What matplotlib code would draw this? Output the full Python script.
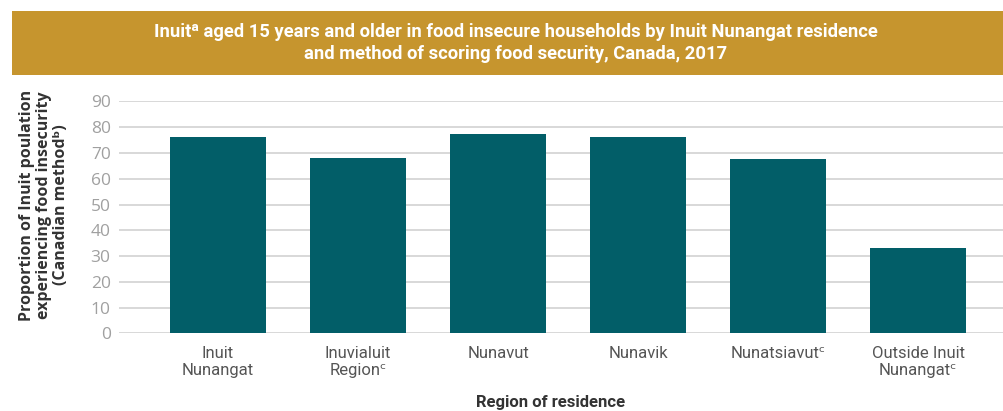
import matplotlib
matplotlib.use("Agg")
import matplotlib.pyplot as plt
from matplotlib.patches import Rectangle

categories = ["Inuit\nNunangat", "Inuvialuit\nRegionᶜ", "Nunavut", "Nunavik",
              "Nunatsiavutᶜ", "Outside Inuit\nNunangatᶜ"]
values = [76.3, 68.1, 77.4, 76.2, 67.7, 33.1]
yticks = [0, 10, 20, 30, 40, 50, 60, 70, 80, 90]

title = ("Inuitᵃ aged 15 years and older in food insecure households by Inuit Nunangat residence\n"
         "and method of scoring food security, Canada, 2017")
ylabel = "Proportion of Inuit poulation\nexperiencing food insecurity\n(Canadian methodᵇ)"
xlabel = "Region of residence"

W, H = 1004, 411
fig = plt.figure(figsize=(W / 100, H / 100), dpi=100)
fig.patch.set_facecolor("white")

narrow = ["Roboto", "DejaVu Sans"]
sans = ["Open Sans", "DejaVu Sans"]

# banner
fig.add_artist(Rectangle((12 / W, 1 - 75 / H), 1 - 12 / W, 64 / H,
                         transform=fig.transFigure, facecolor="#C6952E",
                         edgecolor="none", zorder=0))
fig.text(516 / W, 1 - 43 / H, title, ha="center", va="center", color="white",
         fontsize=13.2, fontweight="bold", family=narrow, linespacing=1.25)

left, right = 119 / W, 1.0
bottom, top = 1 - 333.3 / H, 1 - 101.5 / H
ax = fig.add_axes([left, bottom, right - left, top - bottom])

x = list(range(len(categories)))
ax.bar(x, values, width=0.686, color="#025E68", zorder=3)
ax.set_xlim(-0.707, 5.614)
ax.set_ylim(0, 90)
ax.set_yticks(yticks)
ax.set_yticklabels([str(v) for v in yticks], family=sans, fontsize=12.5, color="#A0A0A0")
ax.set_xticks(x)
ax.set_xticklabels(categories, family=narrow, fontsize=12, color="#555555",
                   linespacing=1.2)
ax.tick_params(axis="both", length=0)
ax.tick_params(axis="y", pad=6)
ax.tick_params(axis="x", pad=9)
ax.grid(axis="y", color="#D6D6D6", linewidth=1.3, zorder=0)
ax.set_axisbelow(True)
for s in ax.spines.values():
    s.set_visible(False)

fig.text(44 / W, 1 - 205 / H, ylabel, rotation=90, ha="center", va="center",
         family=sans, fontsize=11.5, fontweight="bold", color="#333333",
         linespacing=1.05)
fig.text(551 / W, 1 - 402 / H, xlabel, ha="center", va="center",
         family=narrow, fontsize=12, fontweight="bold", color="#333333")

fig.savefig("out.png", dpi=100)
